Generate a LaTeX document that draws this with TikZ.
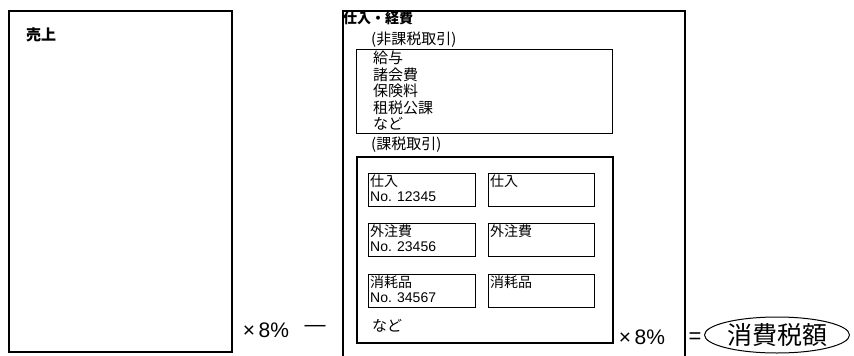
\documentclass[tikz,border=0pt]{standalone}
\usepackage{fontspec}
\setmainfont{Noto Sans CJK JP}
\newfontfamily\latinfont{Liberation Sans}
\usetikzlibrary{shapes.geometric}

\begin{document}
\begin{tikzpicture}[x=1pt, y=-1pt,
        frame/.style={draw, line width=1.5pt, anchor=north west, inner sep=0pt},
        slip/.style={draw, line width=1.2pt, anchor=north west, inner sep=0pt, minimum width=107pt, minimum height=33pt},
        txt/.style={anchor=north west, inner sep=0pt, align=left, font=\fontsize{15}{15}\selectfont},
        op/.style={inner sep=0pt, font=\latinfont\fontsize{21}{21}\selectfont}]
            \useasboundingbox (0,0) rectangle (854,356);

            \node[frame, minimum width=223pt, minimum height=341pt] (Uriage) at (8,10) {};
            \node[frame, minimum width=342pt, minimum height=346pt] (Shiire) at (342,10) {};
            \node[frame, line width=1.3pt, minimum width=256pt, minimum height=84pt] (Hikazei) at (356,49) {};
            \node[frame, minimum width=256pt, minimum height=186pt] (Kazei) at (356,156) {};

            \node[slip] (S_1_1) at (368,173) {};
            \node[slip, minimum width=106pt] (S_1_2) at (488,173) {};
            \node[slip] (S_2_1) at (368,223) {};
            \node[slip, minimum width=106pt] (S_2_2) at (488,223) {};
            \node[slip] (S_3_1) at (368,274) {};
            \node[slip, minimum width=106pt] (S_3_2) at (488,274) {};

            \node[txt, font=\bfseries\fontsize{15}{15}\selectfont] (T_Uriage) at (26,28) {売上};
            \node[txt, font=\bfseries\fontsize{14}{15}\selectfont] (T_Shiire) at (343,11) {仕入・経費};
            \node[txt] (T_Hikazei) at (371,32) {(非課税取引)};
            \node[txt, font=\fontsize{15}{16.5}\selectfont] (T_Items) at (373,51) {給与\\諸会費\\保険料\\租税公課\\など};
            \node[txt] (T_Kazei) at (371,137) {(課税取引)};
            \node[txt] (T_Nado) at (372,319) {など};

            \node[txt, font=\fontsize{14}{15}\selectfont] (T_1_1) at ([shift={(2,1.5)}]S_1_1.north west) {仕入\\{\latinfont No. 12345}};
            \node[txt, font=\fontsize{14}{15}\selectfont] (T_1_2) at ([shift={(2,1.5)}]S_1_2.north west) {仕入};
            \node[txt, font=\fontsize{14}{15}\selectfont] (T_2_1) at ([shift={(2,1.5)}]S_2_1.north west) {外注費\\{\latinfont No. 23456}};
            \node[txt, font=\fontsize{14}{15}\selectfont] (T_2_2) at ([shift={(2,1.5)}]S_2_2.north west) {外注費};
            \node[txt, font=\fontsize{14}{15}\selectfont] (T_3_1) at ([shift={(2,1.5)}]S_3_1.north west) {消耗品\\{\latinfont No. 34567}};
            \node[txt, font=\fontsize{14}{15}\selectfont] (T_3_2) at ([shift={(2,1.5)}]S_3_2.north west) {消耗品};

            \node[op] (Rate_1) at (266,330) {×\,8\%};
            \node[op] (Minus) at (315,328) {—};
            \node[op] (Rate_2) at (642,337) {×\,8\%};
            \node[op, font=\latinfont\fontsize{22}{22}\selectfont] (Equal) at (695,338) {=};
            \node[ellipse, draw, line width=1pt, inner sep=0pt, minimum width=145pt, minimum height=36pt,
                font=\fontsize{25}{25}\selectfont] (Tax) at (777,335) {消費税額};
        \end{tikzpicture}
\end{document}
